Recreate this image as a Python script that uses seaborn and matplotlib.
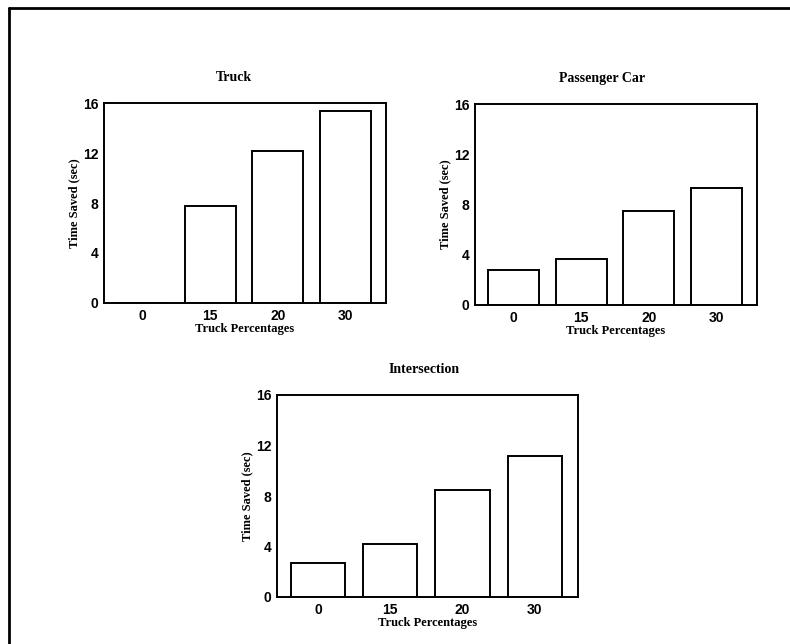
import pandas as pd
import matplotlib.pyplot as plt
import seaborn as sns

# Data
truck_pct = ["0", "15", "20", "30"]
truck_saved = [0.0, 7.8, 12.2, 15.4]
car_saved = [2.8, 3.7, 7.5, 9.3]
intersection_saved = [2.7, 4.2, 8.5, 11.2]

panels = [
    ("Truck", truck_saved, [104 / 790, 1 - 303 / 644, 282 / 790, 200 / 644], 0.46),
    ("Passenger Car", car_saved, [475 / 790, 1 - 305 / 644, 282 / 790, 201 / 644], 0.45),
    ("Intersection", intersection_saved, [277 / 790, 1 - 597 / 644, 301 / 790, 202 / 644], 0.49),
]

sns.set_style("white")
plt.rcParams["font.family"] = ["Liberation Sans", "DejaVu Sans"]
plt.rcParams.update({"text.color": "black", "axes.labelcolor": "black",
                     "xtick.color": "black", "ytick.color": "black"})
serif = ["Liberation Serif", "DejaVu Serif"]

fig = plt.figure(figsize=(7.9, 6.44), dpi=100)

for title, values, rect, tx in panels:
    ax = fig.add_axes(rect)
    df = pd.DataFrame({"pct": truck_pct, "saved": values})
    sns.barplot(data=df, x="pct", y="saved", order=truck_pct, color="white",
                edgecolor="black", linewidth=1.4, width=0.75, ax=ax)
    ax.set_xlim(-0.57, 3.6)
    ax.set_ylim(0, 16)
    ax.set_yticks([0, 4, 8, 12, 16])
    ax.tick_params(axis="both", direction="in", length=3, width=0.8,
                   labelsize=10, pad=4, colors="black")
    for lab in ax.get_xticklabels() + ax.get_yticklabels():
        lab.set_fontweight("bold")
    for s in ax.spines.values():
        s.set_visible(True)
        s.set_linewidth(1.4)
        s.set_color("black")
    ax.set_title(title, family=serif, fontweight="bold", fontsize=10,
                 x=tx, pad=16, color="black")
    ax.set_xlabel("Truck Percentages", family=serif, fontweight="bold",
                  fontsize=9, labelpad=0)
    ax.set_ylabel("Time Saved (sec)", family=serif, fontweight="bold",
                  fontsize=9, labelpad=2)

# scanned page frame: top and left edges only
fig.add_artist(plt.Line2D([9 / 790, 1], [1 - 8 / 644, 1 - 8 / 644],
                          color="black", linewidth=2))
fig.add_artist(plt.Line2D([9 / 790, 9 / 790], [0, 1 - 8 / 644],
                          color="black", linewidth=2))

fig.savefig("out.png", dpi=100)
